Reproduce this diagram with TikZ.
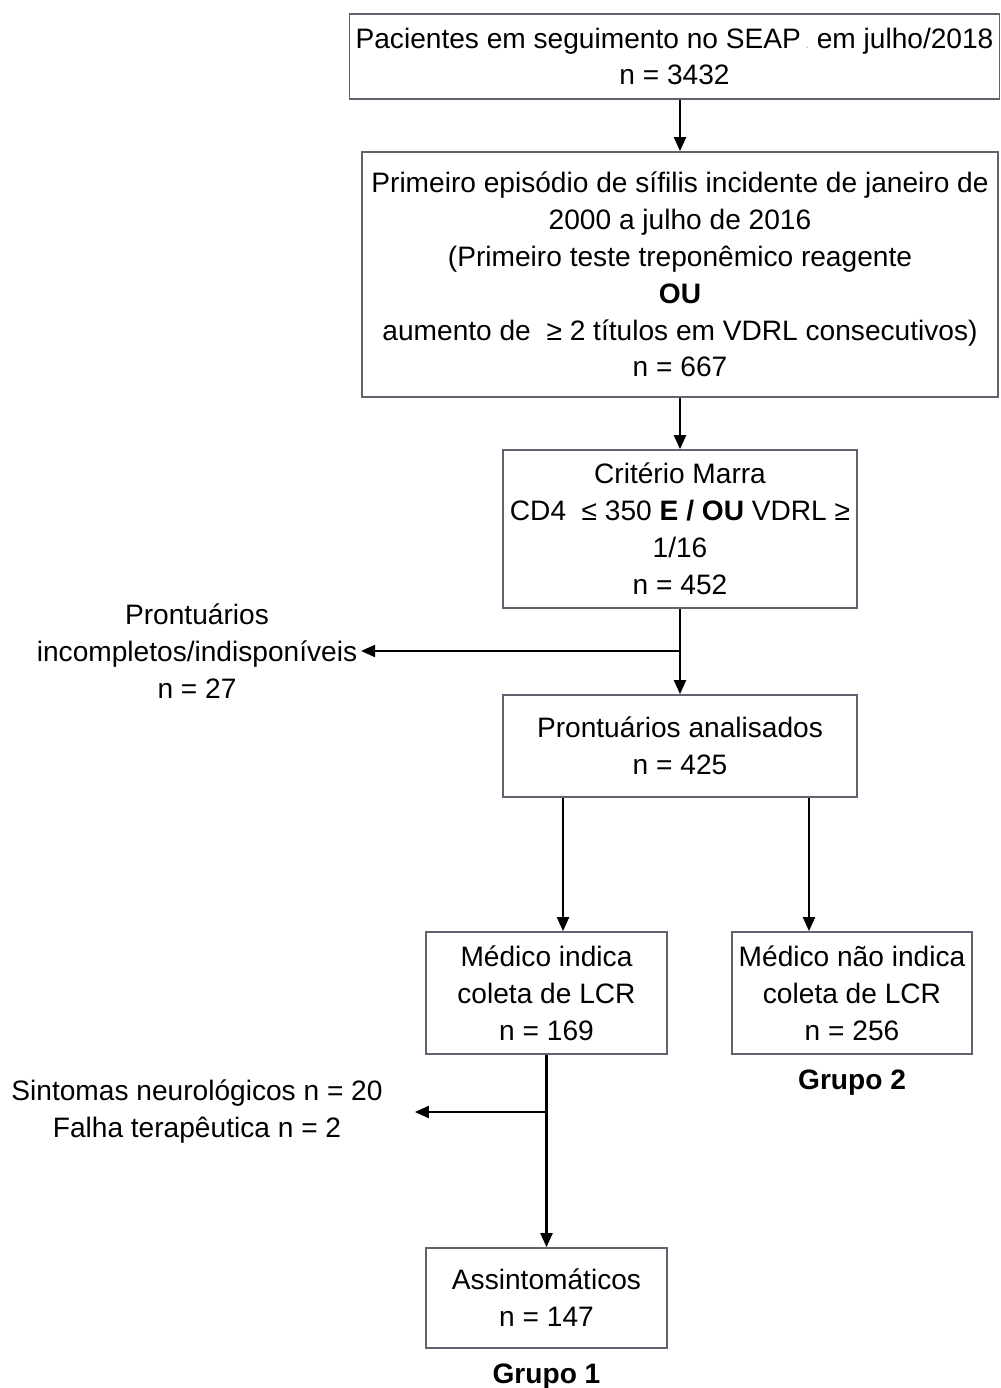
\documentclass[tikz,border=0pt]{standalone}
\usepackage{fontspec}
\setmainfont{Liberation Sans}
\usepackage{tikz}
\usetikzlibrary{arrows.meta, positioning, calc}
\definecolor{boxgray}{RGB}{95, 100, 112}

\begin{document}
\begin{tikzpicture}[x=0.02cm, y=-0.02cm,
  every node/.style={font=\fontsize{16}{21}\selectfont, align=center, inner sep=0pt},
  stagebox/.style={draw=boxgray, line width=1pt, minimum width=#1*0.02cm},
  flow/.style={draw=black, line width=1.2pt, -{Triangle[length=0.28cm, width=0.24cm]}}]
  \useasboundingbox (0,0) rectangle (1000,1388);

  % main column
  \node[stagebox=650, minimum height=85*0.02cm] (seap) at (674.5,56.5)
    {Pacientes em seguimento no SEAP\,{\color{gray!60}\scriptsize.}\ em julho/2018\\n = 3432};
  \node[stagebox=636, minimum height=245*0.02cm] (incid) at (680,274.5)
    {Primeiro episódio de sífilis incidente de janeiro de\\2000 a julho de 2016\\(Primeiro teste treponêmico reagente\\\textbf{OU}\\aumento de \ ≥ 2 títulos em VDRL consecutivos)\\n = 667};
  \node[stagebox=354, minimum height=158*0.02cm] (marra) at (680,529)
    {Critério Marra\\CD4 \ ≤ 350 \textbf{E / OU} VDRL ≥\\1/16\\n = 452};
  \node[stagebox=354, minimum height=102*0.02cm] (analis) at (680,746)
    {Prontuários analisados\\n = 425};
  \node[stagebox=241, minimum height=122*0.02cm] (indica) at (546.5,993)
    {Médico indica\\coleta de LCR\\n = 169};
  \node[stagebox=240, minimum height=122*0.02cm] (naoind) at (852,993)
    {Médico não indica\\coleta de LCR\\n = 256};
  \node[stagebox=241, minimum height=100*0.02cm] (assint) at (546.5,1298)
    {Assintomáticos\\n = 147};

  % side notes
  \node[inner sep=2pt] (incompl) at (197,651)
    {Prontuários\\incompletos/indisponíveis\\n = 27};
  \node (neuro) at (197,1112)
    {Sintomas neurológicos n = 20\\Falha terapêutica n = 2};
  \node[below=0.3cm of naoind, font=\fontsize{16}{21}\selectfont\bfseries] (grupo2) {Grupo 2};
  \node[below=0.3cm of assint, font=\fontsize{16}{21}\selectfont\bfseries] (grupo1) {Grupo 1};

  % connectors
  \coordinate (colA) at (563,0);
  \coordinate (colB) at (809,0);
  \draw[flow] (seap.south -| incid.north) -- (incid.north);
  \draw[flow] (incid) -- (marra);
  \draw[flow] (marra) -- (analis);
  \draw[flow] (marra.south |- incompl.east) -- (incompl.east);
  \draw[flow] (analis.south -| colA) -- (indica.north -| colA);
  \draw[flow] (analis.south -| colB) -- (naoind.north -| colB);
  \draw[flow] (indica) -- (assint);
  \draw[flow] (indica.south |- neuro.east) -- ([xshift=0.64cm]neuro.east);
\end{tikzpicture}
\end{document}
